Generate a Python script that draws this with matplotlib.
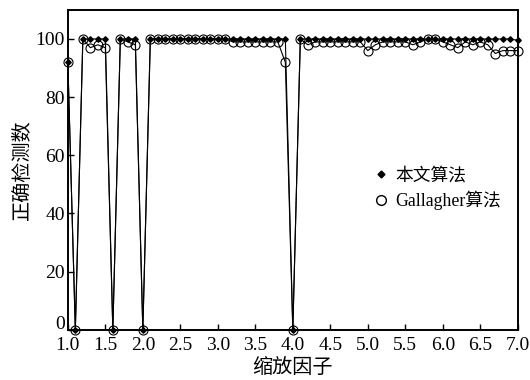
import matplotlib
matplotlib.use("Agg")
import matplotlib.pyplot as plt
import matplotlib.transforms as mtransforms
from matplotlib.lines import Line2D

plt.rcParams['font.family'] = ['Liberation Serif', 'Noto Sans CJK SC']
plt.rcParams['axes.unicode_minus'] = False

# 缩放因子
scale = [1.0, 1.1, 1.2, 1.3, 1.4, 1.5, 1.6, 1.7, 1.8, 1.9,
         2.0, 2.1, 2.2, 2.3, 2.4, 2.5, 2.6, 2.7, 2.8, 2.9,
         3.0, 3.1, 3.2, 3.3, 3.4, 3.5, 3.6, 3.7, 3.8, 3.9,
         4.0, 4.1, 4.2, 4.3, 4.4, 4.5, 4.6, 4.7, 4.8, 4.9,
         5.0, 5.1, 5.2, 5.3, 5.4, 5.5, 5.6, 5.7, 5.8, 5.9,
         6.0, 6.1, 6.2, 6.3, 6.4, 6.5, 6.6, 6.7, 6.8, 6.9,
         7.0]

# 本文算法
ours = [92, 0, 100, 100, 100, 100, 0, 100, 100, 100,
        0, 100, 100, 100, 100, 100, 100, 100, 100, 100,
        100, 100, 100, 100, 100, 100, 100, 100, 100, 100,
        0, 100, 100, 100, 100, 100, 100, 100, 100, 100,
        100, 100, 100, 100, 100, 100, 100, 100, 100, 100,
        100, 100, 100, 100, 100, 100, 100, 100, 100, 100,
        99.5]

# Gallagher算法
gallagher = [92, 0, 100, 97, 98, 97, 0, 100, 99, 98,
             0, 100, 100, 100, 100, 100, 100, 100, 100, 100,
             100, 100, 99, 99, 99, 99, 99, 99, 99, 92,
             0, 100, 98, 99, 99, 99, 99, 99, 99, 99,
             96, 98, 99, 99, 99, 99, 98, 99, 100, 100,
             99, 98, 97, 99, 98, 99, 98, 95, 96, 96,
             96]

xticks = [1.0, 1.5, 2.0, 2.5, 3.0, 3.5, 4.0, 4.5, 5.0, 5.5, 6.0, 6.5, 7.0]
yticks = [0, 20, 40, 60, 80, 100]

fig = plt.figure(figsize=(5.3, 3.8), dpi=100)
ax = fig.add_axes([0.128, 0.132, 0.849, 0.842])

ax.plot(scale, gallagher, color='black', lw=0.8, marker='o', ms=6.5,
        mfc='none', mec='black', mew=0.8, clip_on=False)
ax.plot(scale, ours, color='black', lw=0.8, marker='D', ms=2.8,
        mfc='black', mec='black', clip_on=False)

ax.set_xlim(1.0, 7.0)
ax.set_ylim(0, 110)
ax.set_xticks(xticks)
ax.set_xticklabels([f'{t:.1f}' for t in xticks])
ax.set_yticks(yticks)
ax.tick_params(direction='in', length=4, width=1, labelsize=14)
ax.tick_params(axis='x', pad=5)
ax.tick_params(axis='y', pad=2)
for s in ax.spines.values():
    s.set_linewidth(1.4)

# "0" 稍微上移，避免和 "1.0" 挤在一起
lab0 = ax.get_yticklabels()[0]
lab0.set_transform(lab0.get_transform() +
                   mtransforms.ScaledTranslation(0, 5 / 72, fig.dpi_scale_trans))

ax.set_xlabel('缩放因子', fontsize=14.5, labelpad=4)
ax.set_ylabel('正确检测数', fontsize=14.5, labelpad=2)

# 图例只显示标记
handles = [Line2D([], [], ls='none', marker='D', ms=3.5, color='black'),
           Line2D([], [], ls='none', marker='o', ms=7, mfc='none', mec='black', mew=1)]
ax.legend(handles, ['本文算法', 'Gallagher算法'], loc='upper left',
          bbox_to_anchor=(0.664, 0.53), frameon=False, fontsize=12.8,
          handlelength=0.8, handletextpad=0.4, labelspacing=0.35, borderaxespad=0)

fig.savefig('out.png', dpi=100)
